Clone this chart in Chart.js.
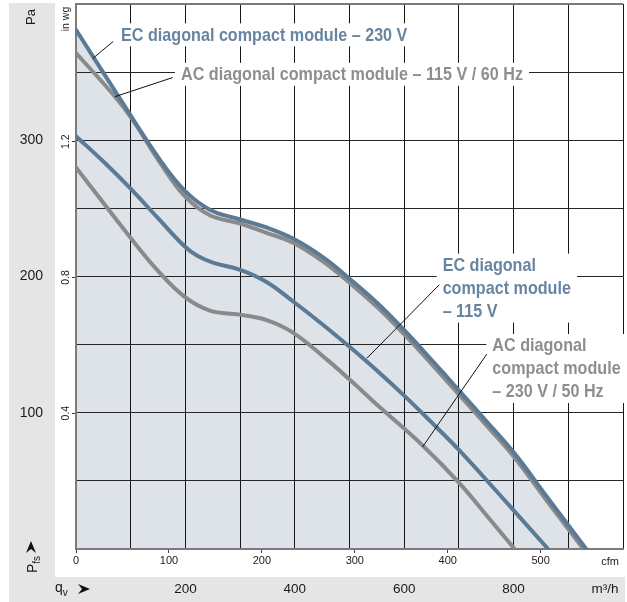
<!DOCTYPE html>
<html>
<head>
<meta charset="utf-8">
<script src="https://cdn.jsdelivr.net/npm/chart.js@4.4.1/dist/chart.umd.min.js"></script>
<style>
  html, body { margin: 0; padding: 0; background: #fff; }
  #wrap { width: 627px; height: 602px; position: relative; }
</style>
</head>
<body>
<div id="wrap"><canvas id="fan"></canvas></div>
<script>
// Fan curves: static pressure (Pa) against air flow (cfm)
const ec230Cfm = [0, 45, 90, 117, 144, 176, 205, 233, 266, 295, 325, 354, 381, 410, 440, 472, 506, 549];
const ec230Pa  = [381, 333, 286, 263, 249, 242, 236, 228, 214, 198, 180, 160, 140, 118, 95, 70, 39, 0];

const ac115Cfm = [0, 42, 61, 90, 117, 144, 176, 205, 233, 266, 295, 325, 354, 381, 410, 440, 472, 506, 546];
const ac115Pa  = [364, 332, 315, 284, 259, 245, 239, 232, 225, 211, 195, 177, 157, 137, 115, 92, 67, 36, 0];

const ec115Cfm = [0, 30, 58, 88, 117, 131, 148, 176, 205, 233, 265, 295, 327, 354, 381, 413, 453, 508];
const ec115Pa  = [303, 284, 265, 243, 222, 215, 210, 205, 196, 182, 165, 148, 129, 112, 94, 72, 42, 0];

const ac230Cfm = [0, 58, 87, 117, 144, 176, 205, 233, 270, 295, 327, 373, 413, 445, 472];
const ac230Pa  = [280, 229, 205, 185, 175, 172, 168, 159, 139, 124, 104, 76, 48, 22, 0];

const cfmTicks  = [0, 100, 200, 300, 400, 500];
const m3hLabels = [200, 400, 600, 800];
const paLabels  = [100, 200, 300];
const inwgTicks = [0.4, 0.8, 1.2];

const CFM_MAX = 1000 / 1.699;      // 1000 m3/h
const INWG_MAX = 400 / 249.09;     // 400 Pa

const BLUE = '#5b7a95', GREY = '#8a8a8a';
const BLUE_TXT = '#6784a0', GREY_TXT = '#8e8e8e';
const FILL = '#dee3e9', BAND = '#e5e5e5';
const FONT = '"Liberation Sans", Arial, sans-serif';

Chart.defaults.font.family = FONT;

const pts = (xs, ys) => xs.map((x, i) => ({ x, y: ys[i] }));

// call-out labels, anchored in data units (cfm, Pa)
const NOTES = [
  { lines: ['EC diagonal compact module – 230 V'], color: BLUE_TXT, at: [48.5, 377], from: [40, 372.5], to: [18, 360] },
  { lines: ['AC diagonal compact module – 115 V / 60 Hz'], color: GREY_TXT, at: [113, 348], from: [104, 346], to: [42, 332] },
  { lines: ['EC diagonal', 'compact module', '– 115 V'], color: BLUE_TXT, at: [394.5, 208], from: [391, 194], to: [313, 140] },
  { lines: ['AC diagonal', 'compact module', '– 230 V / 50 Hz'], color: GREY_TXT, at: [448, 149], from: [442, 143], to: [373, 75] },
];
const NOTE_SIZE = 19, NOTE_SX = 0.85, NOTE_LH = 23;

function rotText(ctx, s, x, y, size, color) {
  ctx.save();
  ctx.translate(x, y);
  ctx.rotate(-Math.PI / 2);
  ctx.font = size + 'px ' + FONT;
  ctx.fillStyle = color;
  ctx.textAlign = 'center';
  ctx.textBaseline = 'middle';
  ctx.fillText(s, 0, 0);
  ctx.restore();
}

function arrow(ctx, tip, dir) {
  // dir: 'up' or 'right'
  ctx.save();
  ctx.fillStyle = '#111';
  ctx.beginPath();
  if (dir === 'up') {
    ctx.moveTo(tip[0], tip[1]);
    ctx.lineTo(tip[0] + 5, tip[1] + 12);
    ctx.lineTo(tip[0], tip[1] + 8);
    ctx.lineTo(tip[0] - 5, tip[1] + 12);
  } else {
    ctx.moveTo(tip[0], tip[1]);
    ctx.lineTo(tip[0] - 12, tip[1] - 5);
    ctx.lineTo(tip[0] - 8, tip[1]);
    ctx.lineTo(tip[0] - 12, tip[1] + 5);
  }
  ctx.closePath();
  ctx.fill();
  ctx.restore();
}

const decor = {
  id: 'decor',
  beforeDraw(chart) {
    const { ctx, width, height } = chart;
    ctx.save();
    ctx.fillStyle = BAND;
    ctx.fillRect(9, 3, 46, height - 3);
    ctx.fillRect(9, 577, width - 11, height - 577);
    ctx.restore();
  },
  afterDatasetsDraw(chart) {
    const { ctx } = chart;
    const sx = chart.scales.xc, sy = chart.scales.y;
    NOTES.forEach(n => {
      const x = sx.getPixelForValue(n.at[0]);
      const y0 = sy.getPixelForValue(n.at[1]);
      ctx.save();
      ctx.font = 'bold ' + NOTE_SIZE + 'px ' + FONT;
      const w = Math.max(...n.lines.map(l => ctx.measureText(l).width)) * NOTE_SX;
      const top = y0 - 12, bot = y0 + (n.lines.length - 1) * NOTE_LH + 11;
      ctx.fillStyle = '#fff';
      ctx.fillRect(x - 6, top, w + 12, bot - top);
      ctx.fillStyle = n.color;
      ctx.textBaseline = 'middle';
      n.lines.forEach((l, i) => {
        ctx.save();
        ctx.translate(x, y0 + i * NOTE_LH);
        ctx.scale(NOTE_SX, 1);
        ctx.fillText(l, 0, 0);
        ctx.restore();
      });
      ctx.strokeStyle = '#111';
      ctx.lineWidth = 1;
      ctx.beginPath();
      ctx.moveTo(sx.getPixelForValue(n.from[0]), sy.getPixelForValue(n.from[1]));
      ctx.lineTo(sx.getPixelForValue(n.to[0]), sy.getPixelForValue(n.to[1]));
      ctx.stroke();
      ctx.restore();
    });
  },
  afterDraw(chart) {
    const { ctx, chartArea } = chart;
    const yw = chart.scales.yw;
    // left band texts
    rotText(ctx, 'Pa', 31, 17, 13, '#1a1a1a');
    rotText(ctx, 'in wg', 66, 19, 10.5, '#1a1a1a');
    inwgTicks.forEach(v => rotText(ctx, v.toFixed(1), 66, yw.getPixelForValue(v), 10.5, '#1a1a1a'));
    arrow(ctx, [31, 541], 'up');
    // P_fs
    ctx.save();
    ctx.translate(33, 566);
    ctx.rotate(-Math.PI / 2);
    ctx.fillStyle = '#1a1a1a';
    ctx.textBaseline = 'middle';
    ctx.font = '14px ' + FONT;
    ctx.fillText('P', -7, 0);
    const pw = ctx.measureText('P').width;
    ctx.font = '10px ' + FONT;
    ctx.fillText('fs', -7 + pw, 4);
    ctx.restore();
    // bottom texts
    ctx.save();
    ctx.fillStyle = '#1a1a1a';
    ctx.textBaseline = 'middle';
    ctx.textAlign = 'center';
    ctx.font = '11px ' + FONT;
    ctx.fillText('cfm', chartArea.right - 13, 562);
    ctx.font = '13.5px ' + FONT;
    ctx.fillText('m³/h', chartArea.right - 18, 589);
    ctx.textAlign = 'left';
    ctx.font = '14px ' + FONT;
    ctx.fillText('q', 55, 588);
    const qw = ctx.measureText('q').width;
    ctx.font = '10px ' + FONT;
    ctx.fillText('v', 55 + qw, 593);
    ctx.restore();
    arrow(ctx, [90, 589], 'right');
  }
};

const line = (label, xs, ys, color, order, extra) => Object.assign({
  label, data: pts(xs, ys), borderColor: color, borderWidth: 4,
  pointRadius: 0, tension: 0.4, fill: false, borderCapStyle: 'round',
  xAxisID: 'xc', yAxisID: 'y', order
}, extra || {});

new Chart(document.getElementById('fan'), {
  type: 'line',
  data: {
    datasets: [
      line('EC diagonal compact module – 230 V', ec230Cfm, ec230Pa, BLUE, 1, { fill: 'origin', backgroundColor: FILL }),
      line('EC diagonal compact module – 115 V', ec115Cfm, ec115Pa, BLUE, 2),
      line('AC diagonal compact module – 115 V / 60 Hz', ac115Cfm, ac115Pa, GREY, 3),
      line('AC diagonal compact module – 230 V / 50 Hz', ac230Cfm, ac230Pa, GREY, 4),
    ],
  },
  options: {
    responsive: true, maintainAspectRatio: false, animation: false,
    layout: { padding: { top: 4, right: 4, left: 0, bottom: 0 } },
    plugins: {
      legend: { display: false }, tooltip: { enabled: false },
      filler: { drawTime: 'beforeDraw' },
    },
    scales: {
      xc: {
        type: 'linear', position: 'bottom', weight: 0, min: 0, max: CFM_MAX,
        afterBuildTicks: s => { s.ticks = cfmTicks.map(value => ({ value })); },
        ticks: { font: { size: 11 }, color: '#1a1a1a', padding: 1, maxRotation: 0, autoSkip: false },
        grid: { drawOnChartArea: false, drawTicks: true, tickLength: 4, color: '#444' },
        border: { color: '#7b7b7b', width: 2 },
        afterFit: s => { s.height = 28; s.paddingLeft = 0; s.paddingRight = 0; },
      },
      xm: {
        type: 'linear', position: 'bottom', weight: 1, min: 0, max: 1000,
        afterBuildTicks: s => { s.ticks = [0, 100, 200, 300, 400, 500, 600, 700, 800, 900, 1000].map(value => ({ value })); },
        ticks: {
          font: { size: 13.5 }, color: '#1a1a1a', padding: 4, maxRotation: 0, autoSkip: false,
          callback: v => m3hLabels.includes(v) ? String(v) : '',
        },
        grid: { drawTicks: false, color: c => c.tick && c.tick.value === 0 ? 'rgba(0,0,0,0)' : '#161616' },
        border: { display: false },
        afterFit: s => { s.height = 25; s.paddingLeft = 0; s.paddingRight = 0; },
      },
      y: {
        type: 'linear', position: 'left', weight: 1, min: 0, max: 400,
        afterBuildTicks: s => { s.ticks = [0, 50, 100, 150, 200, 250, 300, 350, 400].map(value => ({ value })); },
        ticks: {
          font: { size: 14 }, color: '#1a1a1a', padding: 12,
          callback: v => paLabels.includes(v) ? String(v) : '',
        },
        grid: {
          drawTicks: false,
          color: c => !c.tick ? '#222' : c.tick.value === 0 ? 'rgba(0,0,0,0)' : c.tick.value === 400 ? '#7b7b7b' : '#262626',
          lineWidth: c => c.tick && c.tick.value === 400 ? 2 : 1,
        },
        border: { display: false },
        afterFit: s => { s.width = 55; s.paddingTop = 0; s.paddingBottom = 0; },
      },
      yw: {
        type: 'linear', position: 'left', weight: 0, min: 0, max: INWG_MAX,
        afterBuildTicks: s => { s.ticks = inwgTicks.map(value => ({ value })); },
        ticks: { display: false },
        grid: { drawOnChartArea: false, drawTicks: true, tickLength: 4, color: '#333' },
        border: { color: '#7b7b7b', width: 2 },
        afterFit: s => { s.width = 21; s.paddingTop = 0; s.paddingBottom = 0; },
      },
    },
  },
  plugins: [decor],
});
</script>
</body>
</html>
